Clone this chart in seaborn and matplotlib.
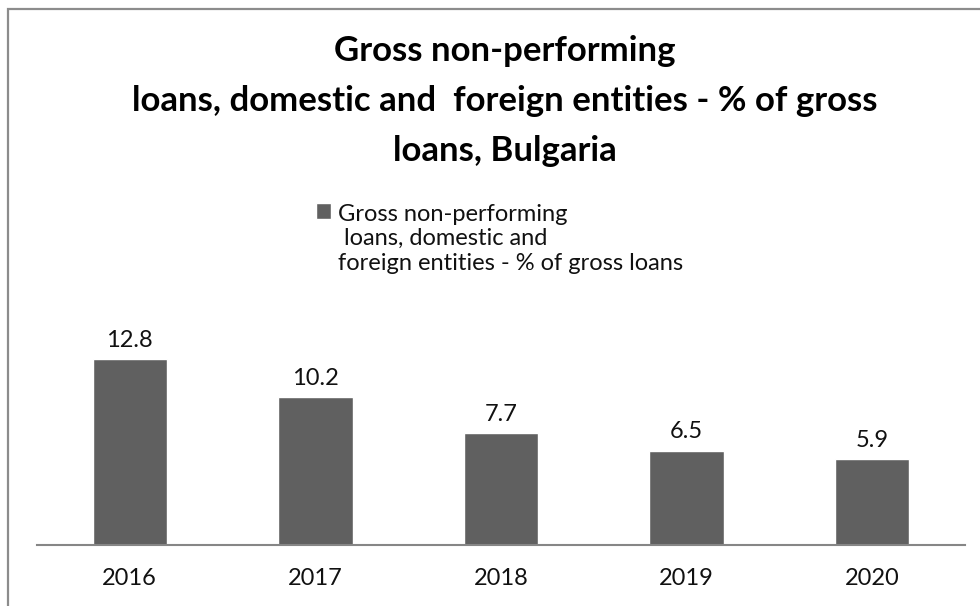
import matplotlib
matplotlib.use("Agg")
import matplotlib.pyplot as plt
from matplotlib.patches import Rectangle
import seaborn as sns
import pandas as pd

# Data
years = ["2016", "2017", "2018", "2019", "2020"]
npl_ratio = [12.8, 10.2, 7.7, 6.5, 5.9]
series_name = "Gross non-performing\n loans, domestic and\nforeign entities - % of gross loans"
chart_title = "Gross non-performing\nloans, domestic and  foreign entities - % of gross\nloans, Bulgaria"

sns.set_theme(style="white")
plt.rcParams["font.family"] = ["Lato", "DejaVu Sans"]

BAR = "#606060"
AXIS = "#868686"
TEXT = "#111111"

df = pd.DataFrame({"year": years, "value": npl_ratio})

W, H = 980, 606
fig = plt.figure(figsize=(W / 100, H / 100), dpi=100)
fig.patch.set_facecolor("white")

# plot area in pixel terms
left_px, right_px, base_px = 37, 965, 544.7
ymax = 14
top_px = base_px - ymax * 14.47
ax = fig.add_axes([left_px / W, (H - base_px) / H,
                   (right_px - left_px) / W, (base_px - top_px) / H])

sns.barplot(data=df, x="year", y="value", color=BAR, width=0.4,
            saturation=1, label=series_name, ax=ax)
ax.set_xlim(-0.5, len(years) - 0.5)
ax.set_ylim(0, ymax)

for c in ax.containers:
    ax.bar_label(c, labels=[f"{v:.1f}" for v in npl_ratio], padding=6,
                 fontsize=17, color=TEXT)

ax.set_xlabel("")
ax.set_ylabel("")
ax.set_yticks([])
ax.tick_params(axis="x", length=0, pad=17, labelsize=17, labelcolor=TEXT)
for s in ("left", "right", "top"):
    ax.spines[s].set_visible(False)
ax.spines["bottom"].set_color(AXIS)
ax.spines["bottom"].set_linewidth(1.5)
ax.patch.set_alpha(0)

# outer chart border
fig.patches.append(Rectangle((8 / W, -0.05), 1.2, 1 - 9 / H + 0.05,
                             transform=fig.transFigure, fill=False,
                             edgecolor="#8c8c8c", linewidth=1.6, zorder=10))

fig.text(505 / W, 1 - 35 / H, chart_title, ha="center", va="top",
         fontsize=25, fontweight="bold", color="black", linespacing=1.7)

leg = ax.legend(loc="upper left", bbox_to_anchor=(304 / W, 1 - 192 / H),
                bbox_transform=fig.transFigure, frameon=False, fontsize=17,
                handlelength=0.66, handleheight=0.66, handletextpad=0.3,
                borderpad=0, labelspacing=0)
for t in leg.get_texts():
    t.set_linespacing(1.2)
    t.set_color(TEXT)
for h in leg.legend_handles:
    h.set_y(h.get_y() + 20)

fig.savefig("out.png", dpi=100, facecolor="white")
